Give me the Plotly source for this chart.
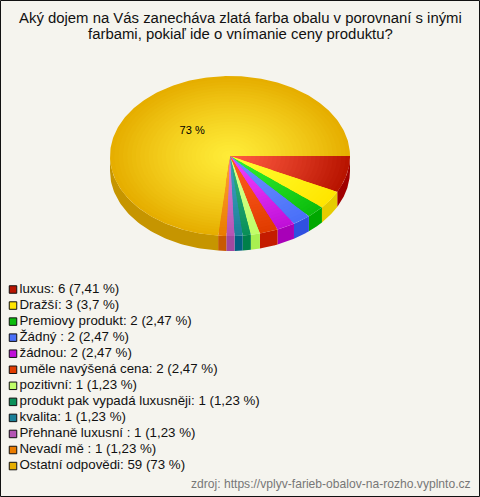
import numpy as np
import plotly.graph_objects as go

title_lines = ["Aký dojem na Vás zanecháva zlatá farba obalu v porovnaní s inými",
               "farbami, pokiaľ ide o vnímanie ceny produktu?"]
categories = ["luxus", "Dražší", "Premiovy produkt", "Žádný ", "žádnou", "uměle navýšená cena",
              "pozitivní", "produkt pak vypadá luxusněji", "kvalita", "Přehnaně luxusní ",
              "Nevadí mě ", "Ostatní odpovědi"]
counts = [6, 3, 2, 2, 2, 2, 1, 1, 1, 1, 1, 59]
percent_labels = ["7,41", "3,7", "2,47", "2,47", "2,47", "2,47", "1,23", "1,23", "1,23", "1,23", "1,23", "73"]
source_text = "zdroj: https://vplyv-farieb-obalov-na-rozho.vyplnto.cz"

# style constants
BG = "#f5f4ee"
edge_colors = ["#b81400", "#ffe600", "#0cbc0c", "#4a70f8", "#c010d8", "#e03c00",
               "#c0fe68", "#0a9058", "#1a8098", "#b454b4", "#ea7c00", "#e6ae00"]
center_colors = ["#ff5a40", "#ffff30", "#30f030", "#6a90ff", "#f040ff", "#ff5c20",
                 "#d8ff90", "#30b080", "#40a0c0", "#d880d8", "#ffa030", "#ffec38"]
side_colors = ["#a00000", "#e6cc00", "#00a800", "#3050e0", "#a800b8", "#c41c00",
               "#a8f050", "#00804a", "#006080", "#a048a0", "#c85a00", "#c69500"]
CX, CY, RX, RY, DEPTH = 230, 156, 120, 80, 15
RINGS = 28


def hex2rgb(h):
    return np.array([int(h[i:i + 2], 16) for i in (1, 3, 5)], float)


def mix(a, b, t):
    c = hex2rgb(a) * (1 - t) + hex2rgb(b) * t
    return "rgb(%d,%d,%d)" % tuple(c.round())


total = sum(counts)
true_angles = np.cumsum([0] + counts) / total * 360
# slight tilt-projection warp seen near the front of the reference pie
fractions = np.radians(np.interp(true_angles, [0, 80, 97.8, 360], [0, 80, 95.7, 360]))
fig = go.Figure()


def poly(xs, ys, color):
    fig.add_trace(go.Scatter(x=xs, y=ys, mode="lines", fill="toself", fillcolor=color,
                             line=dict(width=0), hoverinfo="skip", showlegend=False))


# side wall
for i in range(len(counts)):
    a0, a1 = fractions[i], min(fractions[i + 1], np.pi)
    if a0 >= np.pi:
        continue
    t = np.linspace(a0, a1, 60)
    xs = CX + RX * np.cos(t)
    ys = CY + RY * np.sin(t)
    poly(np.r_[xs, xs[::-1]], np.r_[ys, ys[::-1] + DEPTH], side_colors[i])

# top surface: radial gradient as nested wedges
for k in range(RINGS):
    r = 1 - k / RINGS
    for i in range(len(counts)):
        n = max(4, int((fractions[i + 1] - fractions[i]) * 60))
        t = np.linspace(fractions[i], fractions[i + 1], n)
        xs = np.r_[CX, CX + r * RX * np.cos(t), CX]
        ys = np.r_[CY, CY + r * RY * np.sin(t), CY]
        poly(xs, ys, mix(center_colors[i], edge_colors[i], r ** 1.25))

# slice label
mid = (fractions[-2] + fractions[-1]) / 2
fig.add_trace(go.Scatter(x=[CX + 0.47 * RX * np.cos(mid)], y=[CY + 0.41 * RY * np.sin(mid)],
                         mode="text", text=[f"{percent_labels[-1]} %"],
                         textfont=dict(family="Liberation Sans", size=11, color="#000"),
                         hoverinfo="skip", showlegend=False))

# legend
rows = np.arange(len(categories))
fig.add_trace(go.Scatter(x=[13] * len(rows), y=289.5 + rows * 16.05, mode="markers",
                         marker=dict(symbol="square", size=7.5, color=edge_colors,
                                     line=dict(color="#111", width=1)),
                         hoverinfo="skip", showlegend=False))
fig.add_trace(go.Scatter(x=[19.5] * len(rows), y=289.2 + rows * 16.05, mode="text",
                         text=[f"{c}: {n} ({p} %)" for c, n, p in zip(categories, counts, percent_labels)],
                         textposition="middle right",
                         textfont=dict(family="Liberation Sans", size=13.3, color="#111"),
                         hoverinfo="skip", showlegend=False))

title_notes = [dict(x=240, y=18 + 16 * j, xref="x", yref="y", text=line, showarrow=False,
                    font=dict(family="Liberation Sans", size=14.9, color="#111"))
               for j, line in enumerate(title_lines)]

fig.update_layout(
    width=480, height=497, margin=dict(l=0, r=0, t=0, b=0),
    paper_bgcolor=BG, plot_bgcolor=BG, showlegend=False,
    xaxis=dict(range=[0, 480], visible=False, fixedrange=True),
    yaxis=dict(range=[497, 0], visible=False, fixedrange=True),
    annotations=title_notes + [
        dict(x=472.5, y=484, xref="x", yref="y", text=source_text, showarrow=False, xanchor="right",
             font=dict(family="Liberation Sans", size=12.1, color="#777")),
    ],
    shapes=[dict(type="rect", xref="x", yref="y", x0=0.5, y0=0.5, x1=479.5, y1=496.5,
                 line=dict(color="#111", width=1), fillcolor="rgba(0,0,0,0)")],
)
fig.write_html("out.html", config={"displayModeBar": False},
               post_script="document.body.style.margin='0';document.documentElement.style.overflow='hidden';")
